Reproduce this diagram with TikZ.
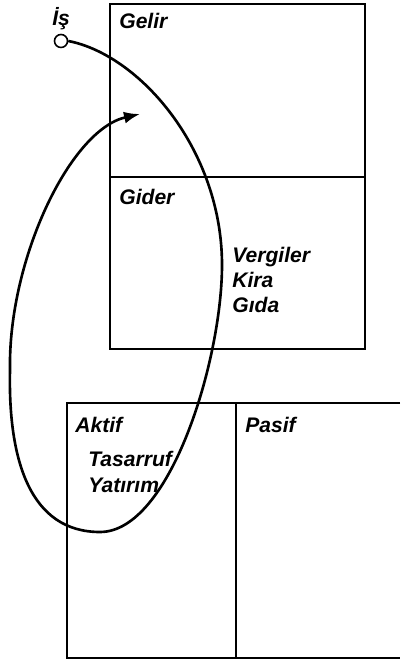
\documentclass[tikz,border=0pt]{standalone}
\usepackage{fontspec}
\setmainfont{Liberation Sans}
\usetikzlibrary{arrows.meta, positioning}

\begin{document}
\begin{tikzpicture}[
    x=0.02cm, y=-0.02cm,
    box/.style={draw, line width=1.1pt},
    lbl/.style={anchor=base west, inner sep=0pt,
                font=\bfseries\itshape\fontsize{12}{14}\selectfont},
    flow/.style={-{Latex[length=0.32cm, width=0.24cm]}, line width=1.5pt},
    startdot/.style={circle, draw, line width=0.9pt, fill=white,
                     inner sep=0pt, minimum size=0.26cm}
]
    \useasboundingbox (0,0) rectangle (400,661);

    % Gelir / Gider account
    \draw[box] (110,4) rectangle (365,349);
    \draw[box] (110,177) -- (365,177);

    % Aktif / Pasif account
    \draw[box] (400,403) -- (67,403) -- (67,658) -- (400,658);
    \draw[box] (236,403) -- (236,658);

    % Labels
    \node[lbl] (is) at (52,26) {İş};
    \node[lbl] (gelir) at (119,29) {Gelir};
    \node[lbl] (gider) at (119,205) {Gider};
    \node[lbl] (vergiler) at (232,263) {Vergiler};
    \node[lbl] (kira) at (232,288) {Kira};
    \node[lbl] (gida) at (232,313) {Gıda};
    \node[lbl] (aktif) at (75,432) {Aktif};
    \node[lbl] (tasarruf) at (88,466) {Tasarruf};
    \node[lbl] (yatirim) at (88,492) {Yatırım};
    \node[lbl] (pasif) at (245,432) {Pasif};

    % Cycle
    \node[startdot] (start) at (61,41) {};
    \coordinate (right) at (222,265);
    \coordinate (bottom) at (100,532);
    \coordinate (left) at (10,370);
    \coordinate (back) at (140,114);
    \draw[flow] (start.east) .. controls (140,55) and (222,150) .. (right)
        .. controls (222,360) and (170,532) .. (bottom)
        .. controls (30,532) and (8,460) .. (left)
        .. controls (8,260) and (70,130) .. (back);
\end{tikzpicture}
\end{document}
